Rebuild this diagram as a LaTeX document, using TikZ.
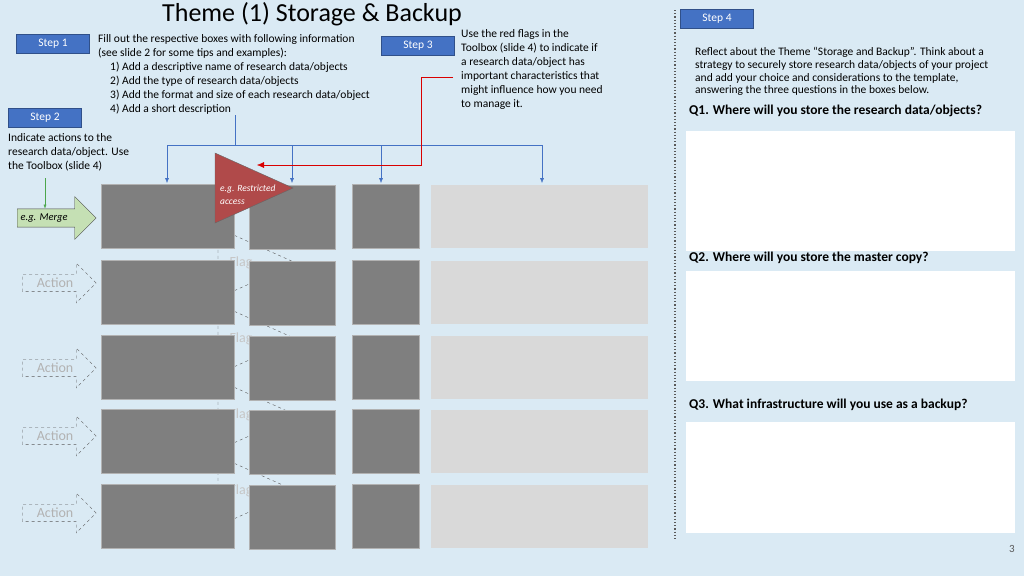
\documentclass[tikz,border=0pt]{standalone}
\usepackage{fontspec}
\setmainfont{Carlito}
\usetikzlibrary{positioning, arrows.meta, shapes.arrows}
\definecolor{bgblue}{RGB}{218,234,244}
\definecolor{stepblue}{RGB}{68,114,196}
\definecolor{darkbox}{RGB}{127,127,127}
\definecolor{lightbox}{RGB}{217,217,217}
\definecolor{flagred}{RGB}{176,74,74}
\definecolor{mergegreen}{RGB}{197,224,180}
\definecolor{linkblue}{RGB}{68,114,196}
\begin{document}
\begin{tikzpicture}[
	x=1pt, y=-1pt,
	stepbox/.style={draw=stepblue!70!black, fill=stepblue, text=white, font=\fontsize{11.5}{13}\selectfont, minimum width=73pt, minimum height=19pt, inner sep=0pt},
	note/.style={anchor=north west, align=left, font=\fontsize{11.5}{14}\selectfont, inner sep=0pt},
	databox/.style={fill=darkbox, draw=gray!60, anchor=north west, inner sep=0pt},
	ghostbox/.style={fill=lightbox, anchor=north west, inner sep=0pt},
	answer/.style={fill=white, anchor=north west, inner sep=0pt, minimum width=329pt},
	action/.style={shape=single arrow, draw=gray!70!black, dashed, text=gray!60, minimum height=74pt, minimum width=40pt, single arrow head extend=10pt, single arrow tip angle=90, font=\fontsize{14}{16}\selectfont, anchor=west, inner sep=2pt},
	link/.style={draw=linkblue, -{Latex[length=5pt,width=4pt]}},
	>=stealth
]
\path[fill=bgblue] (0,0) rectangle (1024,576);
\useasboundingbox (0,0) rectangle (1024,576);

% header and steps
\node (title) at (312,14) {\fontsize{26}{28}\selectfont Theme (1) Storage \& Backup};
\node[stepbox] (step-1) at (53,44) {Step 1};
\node[stepbox] (step-2) at (45,118) {Step 2};
\node[stepbox] (step-3) at (418,46) {Step 3};
\node[stepbox] (step-4) at (717,19) {Step 4};
\node[note] (fill-text) at (98,34) {Fill out the respective boxes with following information\\(see slide 2 for some tips and examples):\\
\hspace*{12pt}1) Add a descriptive name of research data/objects\\
\hspace*{12pt}2) Add the type of research data/objects\\
\hspace*{12pt}3) Add the format and size of each research data/object\\
\hspace*{12pt}4) Add a short description};
\node[note] (flag-text) at (461,29) {Use the red flags in the\\Toolbox (slide 4) to indicate if\\a research data/object has\\important characteristics that\\might influence how you need\\to manage it.};
\node[note] (action-text) at (8,133) {Indicate actions to the\\research data/object. Use\\the Toolbox (slide 4)};

% hidden flags
\foreach \y [count=\r from 2] in {228, 304, 380, 456}
{
	\draw[gray!70!black, dashed] (218,\y) -- (296,\y+35) -- (218,\y+70) -- cycle;
	\node[text=gray!45, font=\fontsize{14}{16}\selectfont, anchor=west] (flag-\r-text) at (226,\y+35) {Flag};
}

% data rows
\foreach \y [count=\r] in {184, 260, 335, 409, 484}
{
	\node[databox, minimum width=133pt, minimum height=64pt] (name-\r) at (101,\y) {};
	\node[databox, minimum width=86pt, minimum height=64pt] (type-\r) at (249,\y+1) {};
	\node[databox, minimum width=67pt, minimum height=64pt] (size-\r) at (352,\y) {};
	\node[ghostbox, minimum width=217pt, minimum height=63pt] (desc-\r) at (431,\y+1) {};
}
\foreach \y [count=\r from 2] in {283, 368, 436, 513}
	\node[action] (action-\r) at (22,\y) {Action};

\node[shape=single arrow, draw=black!70, fill=mergegreen, minimum height=79pt, minimum width=43pt, single arrow head extend=10pt, single arrow tip angle=90, anchor=west, inner sep=3pt, font=\fontsize{10.5}{12}\selectfont\itshape] (merge) at (17,218) {e.g. Merge\hspace*{16pt}};
\coordinate (merge-top) at (45,178);
\draw[draw=green!50!black!70, -{Latex[length=4pt,width=3pt]}] (merge-top) -- (merge-top |- merge.north);

% red flag example
\draw[draw=black!60, fill=flagred] (215,153) -- (293,188) -- (215,223) -- cycle;
\node[anchor=west, text=white, align=left, font=\fontsize{9.5}{13}\selectfont\itshape, inner sep=0pt] (flag-1-text) at (220,195) {e.g. Restricted\\access};

% connectors
\coordinate (fill-end) at (235,115);
\coordinate (bus-mid) at (235,145);
\draw[draw=linkblue] (fill-end) -- (bus-mid);
\draw[draw=linkblue] (167,145) -- (542,145);
\foreach \x/\t in {167/name-1, 292/type-1, 381/size-1, 542/desc-1}
	\draw[link] (\x,145) -- (\x,183);
\coordinate (red-start) at (453,77);
\draw[draw=red!85!black, -{Latex[length=7pt,width=6pt]}] (red-start) -- (421,77) -- (421,165) -- (257,165);

% right panel
\draw[gray!70!black, dotted, line width=1.2pt] (675,10) -- (675,540);
\node[note, font=\fontsize{11.5}{12.8}\selectfont] (reflect) at (695,47) {Reflect about the Theme “Storage and Backup”. Think about a\\strategy to securely store research data/objects of your project\\and add your choice and considerations to the template,\\answering the three questions in the boxes below.};
\node[note, font=\fontsize{13.5}{15}\selectfont\bfseries] (q-1) at (689,105) {Q1. Where will you store the research data/objects?};
\node[answer, minimum height=120pt] (a-1) at (686,131) {};
\node[note, font=\fontsize{13.5}{15}\selectfont\bfseries] (q-2) at (689,252) {Q2. Where will you store the master copy?};
\node[answer, minimum height=110pt] (a-2) at (686,271) {};
\node[note, font=\fontsize{13.5}{15}\selectfont\bfseries] (q-3) at (689,399) {Q3. What infrastructure will you use as a backup?};
\node[answer, minimum height=111pt] (a-3) at (686,422) {};
\node[text=gray!70!black, font=\fontsize{11}{12}\selectfont] (page) at (1012,549) {3};
\end{tikzpicture}
\end{document}
